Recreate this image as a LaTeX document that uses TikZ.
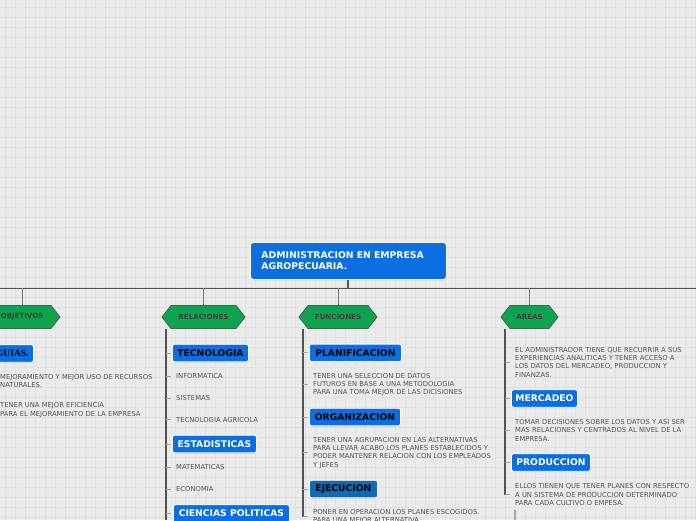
\documentclass[tikz,border=0pt]{standalone}
\usepackage{fontspec}
\setmainfont{DejaVu Sans}
\newfontfamily\serifb{Liberation Serif}
\usetikzlibrary{shadows}
\definecolor{bgc}{HTML}{EBEBEB}
\definecolor{gridc}{HTML}{E2E2E2}
\definecolor{boxblue}{HTML}{0B6FE2}
\definecolor{boxdark}{HTML}{0E6DB2}
\definecolor{hexgreen}{HTML}{10A34F}
\definecolor{hexedge}{HTML}{3A6A4C}
\definecolor{hexlab}{HTML}{3F3F3F}
\definecolor{txt}{HTML}{555555}
\definecolor{linec}{HTML}{555555}
\definecolor{dropc}{HTML}{7A7A7A}
\definecolor{tickc}{HTML}{A6A6A6}
\newcommand\hexa[5]{%
  \path[hexshape] (#2-#4,#3) -- (#2-#4+9,#3-11.5) -- (#2+#4-9,#3-11.5) -- (#2+#4,#3) -- (#2+#4-9,#3+11.5) -- (#2-#4+9,#3+11.5) -- cycle;
  \node[hexlabel, minimum width=2*#4, minimum height=23] (#1) at (#2,#3) {#5};}
\begin{document}
\begin{tikzpicture}[x=1pt,y=-1pt,
  box/.style={rounded corners=2pt, fill=boxblue, draw=white, line width=0.9pt, minimum height=17.5pt, inner sep=0pt,
     font=\fontsize{9.2}{10}\selectfont\bfseries, anchor=west,
     drop shadow={shadow xshift=0.6pt, shadow yshift=-0.8pt, opacity=0.25}},
  boxw/.style={box, text=white},
  boxk/.style={box, text=black},
  note/.style={font=\fontsize{6.8}{8.3}\selectfont, text=txt, align=left, anchor=west, inner sep=0pt},
  hexshape/.style={fill=hexgreen, draw=hexedge, line width=0.8pt},
  hexlabel/.style={font=\fontsize{7.1}{8}\selectfont\bfseries, text=hexlab, inner sep=0pt},
  bar/.style={draw=linec, line width=1pt},
  stem/.style={draw=linec, line width=2pt},
  dropl/.style={draw=dropc, line width=1pt},
  spine/.style={draw=linec, line width=1.1pt},
  tick/.style={draw=tickc, line width=1pt},
  ]
\useasboundingbox (0,0) rectangle (696,520);
\clip (0,0) rectangle (696,520);
\fill[bgc] (0,0) rectangle (696,520);
\foreach \i in {0,...,69} \draw[gridc, line width=0.8pt] (5+10*\i,0) -- (5+10*\i,520);
\foreach \j in {0,...,51} \draw[gridc, line width=0.8pt] (0,7+10*\j) -- (696,7+10*\j);

% root
\node[rounded corners=3pt, fill=boxblue, draw=white, line width=0.9pt, text=white, anchor=north west,
      inner xsep=11pt, inner ysep=0pt, text width=174pt, minimum height=37pt, align=left,
      font=\fontsize{9.3}{11}\selectfont\bfseries,
      drop shadow={shadow xshift=0.6pt, shadow yshift=-0.8pt, opacity=0.25}] (root) at (250,242)
      {ADMINISTRACION EN EMPRESA\\AGROPECUARIA.};

\coordinate (barL) at (0,288);
\coordinate (barR) at (696,288);
\draw[bar] (barL) -- (barR);
\draw[stem] (root.south) -- (root.south |- barL);

% hexagons
\hexa{obj}{22}{317}{38}{OBJETIVOS}
\hexa{rel}{203.5}{317}{41.5}{RELACIONES}
\hexa{fun}{338}{317}{39}{FUNCIONES}
\hexa{are}{529.5}{317}{28.5}{AREAS}
\foreach \n in {obj,rel,fun,are} \draw[dropl] (\n.north) -- (\n.north |- barL);

% ---------- OBJETIVOS children
\node[boxk, anchor=east, text width=70pt, align=right, inner xsep=5pt,
      font=\serifb\fontsize{9.5}{10}\selectfont\bfseries] (gui) at (34,353.5) {GUIAS.};
\node[note] (o1) at (0,381) {MEJORAMIENTO Y MEJOR USO DE RECURSOS\\NATURALES.};
\node[note] (o2) at (0,410) {TENER UNA MEJOR EFICIENCIA\\PARA EL MEJORAMIENTO DE LA EMPRESA};

% ---------- RELACIONES children
\coordinate (relS) at (166,328.5);
\coordinate (relE) at (166,520);
\draw[spine] (relS) -- (relE);
\node[boxk, minimum width=76pt] (r1) at (172,353) {TECNOLOGIA};
\node[note] (r2) at (176,376.3) {INFORMATICA};
\node[note] (r3) at (176,398.3) {SISTEMAS};
\node[note] (r4) at (176,419.8) {TECNOLOGIA AGRICOLA};
\node[boxw, minimum width=84pt] (r5) at (172,444) {ESTADISTICAS};
\node[note] (r6) at (176,467.3) {MATEMATICAS};
\node[note] (r7) at (176,489.3) {ECONOMIA};
\node[boxw, minimum width=116pt] (r8) at (173,513.5) {CIENCIAS POLITICAS};
\foreach \n in {r1,r2,r3,r4,r5,r6,r7,r8} \draw[tick] (\n.west -| relS) -- ++(5,0);

% ---------- FUNCIONES children
\coordinate (funS) at (303,328.5);
\node[boxk, minimum width=92pt] (f1) at (309,352.8) {PLANIFICACION};
\node[note] (f2) at (313,384.7) {TENER UNA SELECCION DE DATOS\\FUTUROS EN BASE A UNA METODOLOGIA\\PARA UNA TOMA MEJOR DE LAS DICISIONES};
\node[boxk, minimum width=91pt] (f3) at (309,417) {ORGANIZACION};
\node[note] (f4) at (313,452.7) {TENER UNA AGRUPACION EN LAS ALTERNATIVAS\\PARA LLEVAR ACABO LOS PLANES ESTABLECIDOS Y\\PODER MANTENER RELACION CON LOS EMPLEADOS\\Y JEFES};
\node[boxk, fill=boxdark, minimum width=68pt] (f5) at (309,489) {EJECUCION};
\node[note] (f6) at (313,516.5) {PONER EN OPERACION LOS PLANES ESCOGIDOS.\\PARA UNA MEJOR ALTERNATIVA};
\draw[spine] (funS) -- (funS |- f6.west);
\foreach \n in {f1,f2,f3,f4,f5,f6} \draw[tick] (\n.west -| funS) -- ++(5,0);

% ---------- AREAS children
\coordinate (areS) at (505,328.5);
\node[note] (a1) at (515,362.3) {EL ADMINISTRADOR TIENE QUE RECURRIR A SUS\\EXPERIENCIAS ANALITICAS Y TENER ACCESO A\\LOS DATOS DEL MERCADEO, PRODUCCION Y\\FINANZAS.};
\node[boxw, minimum width=66pt] (a2) at (511,398.5) {MERCADEO};
\node[note] (a3) at (515,430.5) {TOMAR DECISIONES SOBRE LOS DATOS Y ASI SER\\MAS RELACIONES Y CENTRADOS AL NIVEL DE LA\\EMPRESA.};
\node[boxw, minimum width=79pt] (a4) at (511,462.5) {PRODUCCION};
\node[note] (a5) at (515,494.7) {ELLOS TIENEN QUE TENER PLANES CON RESPECTO\\A UN SISTEMA DE PRODUCCION DETERMINADO\\PARA CADA CULTIVO O EMPESA.};
\draw[spine] (areS) -- (areS |- a5.west);
\foreach \n in {a1,a2,a3,a4,a5} \draw[tick] (\n.west -| areS) -- ++(5,0);
\coordinate (a6s) at (515,510);
\coordinate (a6e) at (515,520);
\draw[tick, line width=1.4pt] (a6s) -- (a6e);
\end{tikzpicture}
\end{document}
